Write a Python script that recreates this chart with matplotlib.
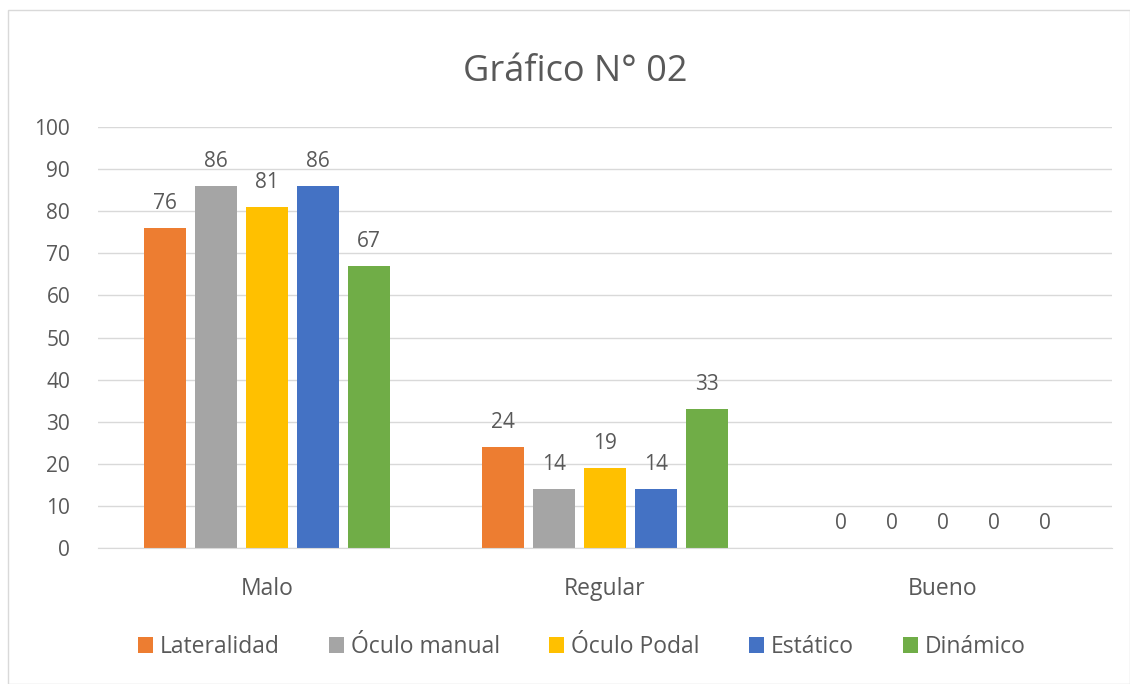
import numpy as np
import matplotlib
matplotlib.use("Agg")
import matplotlib.pyplot as plt
from matplotlib.patches import Rectangle

categories = ["Malo", "Regular", "Bueno"]
series = ["Lateralidad", "Óculo manual", "Óculo Podal", "Estático", "Dinámico"]
lateralidad = [76, 24, 0]
oculo_manual = [86, 14, 0]
oculo_podal = [81, 19, 0]
estatico = [86, 14, 0]
dinamico = [67, 33, 0]
values = [lateralidad, oculo_manual, oculo_podal, estatico, dinamico]
colors = ["#ED7D31", "#A5A5A5", "#FFC000", "#4472C4", "#70AD47"]

TXT = "#595959"
plt.rcParams["font.family"] = ["Open Sans", "DejaVu Sans"]

fig = plt.figure(figsize=(11.3, 6.84), dpi=100)
ax = fig.add_axes([0.0867, 0.1988, 0.8973, 0.6155])

x = np.arange(len(categories))
step, bw = 0.151, 0.125
for i, (name, vals, col) in enumerate(zip(series, values, colors)):
    xi = x + (i - 2) * step
    bars = ax.bar(xi, vals, width=bw, color=col, label=name, zorder=2)
    ax.bar_label(bars, labels=[str(v) for v in vals], padding=10,
                 fontsize=15, color=TXT)

ax.set_xlim(-0.5, 2.5)
ax.set_ylim(0, 100)
ax.set_yticks(range(0, 101, 10))
ax.set_xticks(x)
ax.set_xticklabels(categories)
ax.yaxis.grid(True, color="#D9D9D9", lw=1, zorder=0)
ax.set_axisbelow(True)
for s in ["top", "right", "left"]:
    ax.spines[s].set_visible(False)
ax.spines["bottom"].set_color("#D9D9D9")
ax.tick_params(axis="both", length=0, labelcolor=TXT)
ax.tick_params(axis="x", pad=21, labelsize=16.5)
ax.tick_params(axis="y", pad=20, labelsize=15)

fig.text(0.509, 0.895, "Gráfico N° 02", ha="center", va="center",
         fontsize=26, color=TXT)

fig.legend(loc="center", bbox_to_anchor=(0.515, 0.054), ncol=5, frameon=False,
           fontsize=16.5, labelcolor=TXT, handlelength=0.65, handleheight=0.65,
           handletextpad=0.3, columnspacing=2.15)

fig.add_artist(Rectangle((0.007, 0.0), 0.993, 0.985, transform=fig.transFigure,
                         fill=False, edgecolor="#D9D9D9", lw=1))

fig.savefig("out.png", dpi=100, facecolor="white")
